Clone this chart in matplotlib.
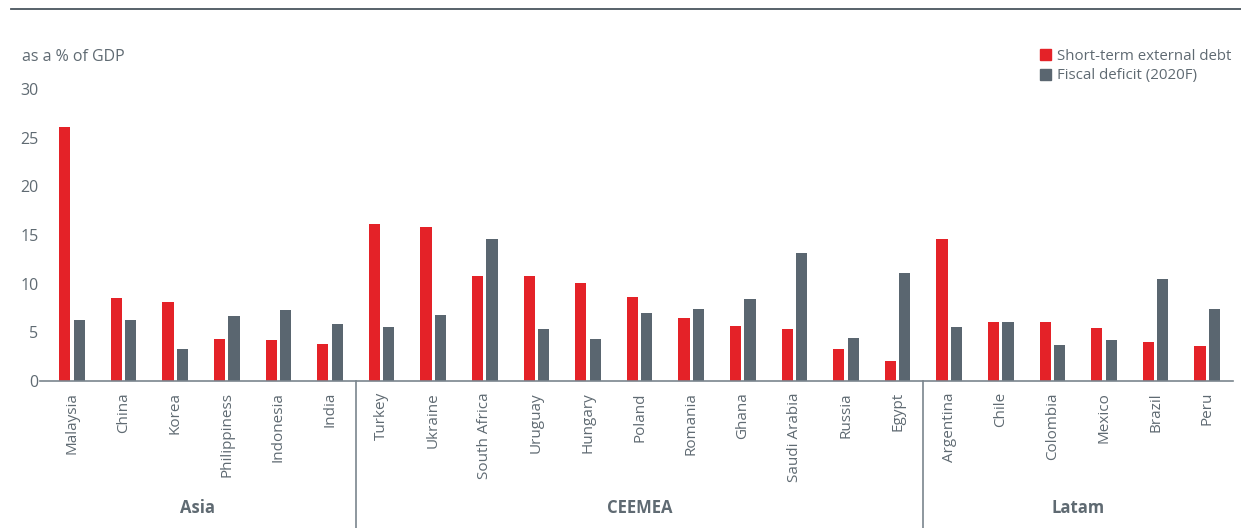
import matplotlib
matplotlib.use('Agg')
import matplotlib.pyplot as plt
import matplotlib.transforms as mtransforms
from matplotlib.patches import Patch
import numpy as np

countries = ['Malaysia', 'China', 'Korea', 'Philippiness', 'Indonesia', 'India',
             'Turkey', 'Ukraine', 'South Africa', 'Uruguay', 'Hungary', 'Poland',
             'Romania', 'Ghana', 'Saudi Arabia', 'Russia', 'Egypt',
             'Argentina', 'Chile', 'Colombia', 'Mexico', 'Brazil', 'Peru']
short_term_debt = [26.1, 8.5, 8.1, 4.3, 4.2, 3.8,
                   16.1, 15.8, 10.8, 10.8, 10.1, 8.6,
                   6.5, 5.65, 5.3, 3.3, 2.1,
                   14.6, 6.05, 6.05, 5.4, 4.0, 3.6]
fiscal_deficit = [6.3, 6.25, 3.3, 6.7, 7.3, 5.9,
                  5.5, 6.8, 14.6, 5.3, 4.3, 7.0,
                  7.4, 8.4, 13.2, 4.4, 11.1,
                  5.5, 6.05, 3.7, 4.2, 10.5, 7.4]
regions = ['Asia', 'CEEMEA', 'Latam']
region_sizes = [6, 11, 6]

RED = '#e42228'
GREY = '#5a6670'
TXT = '#5f6a72'

plt.rcParams['font.family'] = ['Open Sans', 'DejaVu Sans']

fig = plt.figure(figsize=(12.41, 5.28), dpi=100)
ax = fig.add_axes([40 / 1241, 1 - 381 / 528, (1233 - 40) / 1241, (381 - 89) / 528])

x = np.arange(len(countries))
w = 0.215
ax.bar(x - 0.14, short_term_debt, w, color=RED, label='Short-term external debt')
ax.bar(x + 0.14, fiscal_deficit, w, color=GREY, label='Fiscal deficit (2020F)')

ax.set_xlim(-0.62, len(countries) - 0.5)
ax.set_ylim(0, 30)
ax.set_yticks([0, 5, 10, 15, 20, 25, 30])
ax.tick_params(axis='y', length=0, labelsize=11.5, labelcolor=TXT, pad=1)
ax.set_xticks(x)
ax.set_xticklabels(countries, rotation=90, fontsize=11, color=TXT)
ax.tick_params(axis='x', length=0, pad=8)

for s in ['top', 'right', 'left']:
    ax.spines[s].set_visible(False)
ax.spines['bottom'].set_color('#7a858d')
ax.spines['bottom'].set_linewidth(1.2)

# region separators and labels
trans = mtransforms.blended_transform_factory(ax.transData, fig.transFigure)
edges = np.cumsum([0] + region_sizes) - 0.5
edges[0] = -0.62
for i, name in enumerate(regions):
    lo, hi = edges[i], edges[i + 1]
    ax.text((lo + hi) / 2, 0.038, name, transform=trans, ha='center', va='center',
            fontsize=12, fontweight='bold', color=TXT)
for e in edges[1:-1]:
    fig.add_artist(plt.Line2D([e, e], [0, 1 - 381 / 528], transform=trans,
                              color='#7a858d', linewidth=1.2))

fig.text(22 / 1241, 1 - 57 / 528, 'as a % of GDP', fontsize=11.5, color=TXT,
         ha='left', va='center')
fig.add_artist(plt.Line2D([11 / 1241, 1], [1 - 9 / 528, 1 - 9 / 528],
                          transform=fig.transFigure, color='#4a555e', linewidth=1.3))

handles = [Patch(color=RED), Patch(color=GREY)]
fig.legend(handles, ['Short-term external debt', 'Fiscal deficit (2020F)'],
           loc='upper left', bbox_to_anchor=(1040 / 1241, 1 - 49 / 528),
           frameon=False, fontsize=10.8, labelcolor=TXT, handlelength=0.75,
           handleheight=0.75, handletextpad=0.4, labelspacing=0.3, borderpad=0,
           borderaxespad=0)

fig.savefig('out.png', dpi=100)
